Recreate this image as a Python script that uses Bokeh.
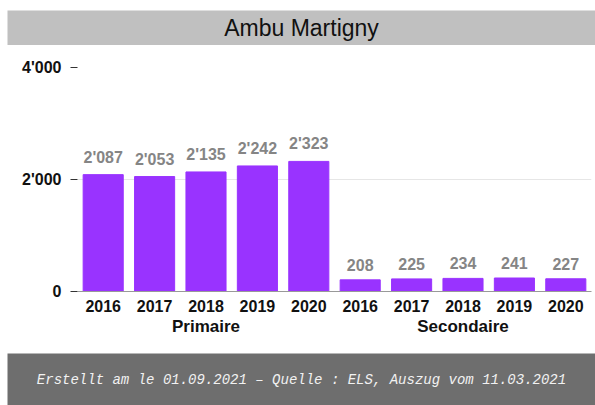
from bokeh.plotting import figure
from bokeh.models import FactorRange, FixedTicker, Range1d, ColumnDataSource
from bokeh.layouts import column
from bokeh.core.properties import value
from bokeh.embed import file_html
from bokeh.resources import INLINE

title_text = "Ambu Martigny"
footer_text = "Erstellt am le 01.09.2021 \u2013 Quelle : ELS, Auszug vom 11.03.2021"
groups = ["Primaire"] * 5 + ["Secondaire"] * 5
years = ["2016", "2017", "2018", "2019", "2020"] * 2
values = [2087, 2053, 2135, 2242, 2323, 208, 225, 234, 241, 227]
y_ticks = [0, 2000, 4000]
y_tick_labels = ["0", "2'000", "4'000"]

W = 595
FONT = "Liberation Sans"

# title band
t = figure(width=W, height=45, x_range=Range1d(0, 1), y_range=Range1d(0, 1),
           x_axis_location=None, y_axis_location=None, toolbar_location=None,
           output_backend="svg", min_border_left=7, min_border_right=0,
           min_border_top=10, min_border_bottom=0, frame_align=False)
t.grid.visible = False
t.outline_line_color = None
t.background_fill_color = "#c0c0c0"
t.border_fill_color = "white"
t.text(x=[0.5], y=[0.5], text=[title_text], text_align="center", text_baseline="middle",
       text_font=value(FONT), text_font_size="23px", text_color="#111111")

# main chart
factors = list(zip(groups, years))
labels = [f"{v:,}".replace(",", "'") for v in values]
src = ColumnDataSource(dict(x=factors, v=values, lbl=labels))

p = figure(width=W, height=308,
           x_range=FactorRange(*factors, factor_padding=0, group_padding=0, range_padding=0),
           y_range=Range1d(0, 4000), toolbar_location=None, output_backend="svg",
           min_border_left=77, min_border_right=4, min_border_top=22, min_border_bottom=62,
           frame_align=False)
p.outline_line_color = None
p.vbar(x="x", top="v", width=0.78, source=src, color="#9933ff")
p.text(x="x", y="v", text="lbl", source=src, y_offset=-9, text_align="center",
       text_baseline="bottom", text_font=value(FONT), text_font_size="16px",
       text_font_style="bold", text_color="#858585")

p.xgrid.visible = False
p.ygrid.ticker = FixedTicker(ticks=y_ticks)
p.ygrid.grid_line_color = "#e6e6e6"

p.yaxis.ticker = FixedTicker(ticks=y_ticks)
p.yaxis.major_label_overrides = dict(zip(y_ticks, y_tick_labels))
p.yaxis.axis_line_color = None
p.yaxis.major_tick_in = 0
p.yaxis.major_tick_out = 7
p.yaxis.major_tick_line_color = "#333333"
p.yaxis.minor_tick_line_color = None
p.yaxis.major_label_text_font = FONT
p.yaxis.major_label_text_font_size = "16px"
p.yaxis.major_label_text_font_style = "bold"
p.yaxis.major_label_text_color = "#111111"
p.yaxis.major_label_standoff = 9

p.xaxis.axis_line_color = "#999999"
p.xaxis.major_tick_line_color = None
p.xaxis.minor_tick_line_color = None
p.xaxis.major_label_text_font = FONT
p.xaxis.major_label_text_font_size = "16px"
p.xaxis.major_label_text_font_style = "bold"
p.xaxis.major_label_text_color = "#111111"
p.xaxis.major_label_standoff = 2
p.xaxis.group_text_font = FONT
p.xaxis.group_text_font_size = "17px"
p.xaxis.group_text_font_style = "bold"
p.xaxis.group_text_color = "#111111"
p.xaxis.separator_line_color = None

# footer band
f = figure(width=W, height=52, x_range=Range1d(0, 1), y_range=Range1d(0, 1),
           x_axis_location=None, y_axis_location=None, toolbar_location=None,
           output_backend="svg", min_border_left=7, min_border_right=0,
           min_border_top=0, min_border_bottom=0, frame_align=False)
f.grid.visible = False
f.outline_line_color = None
f.background_fill_color = "#6e6e6e"
f.border_fill_color = "white"
f.text(x=[0.5], y=[0.5], text=[footer_text], text_align="center", text_baseline="middle",
       text_font=value("Liberation Mono"), text_font_size="14px", text_font_style="italic",
       text_color="#f2f2f2")

layout = column(t, p, f, spacing=0)
open("out.html", "w").write(file_html(layout, INLINE))
